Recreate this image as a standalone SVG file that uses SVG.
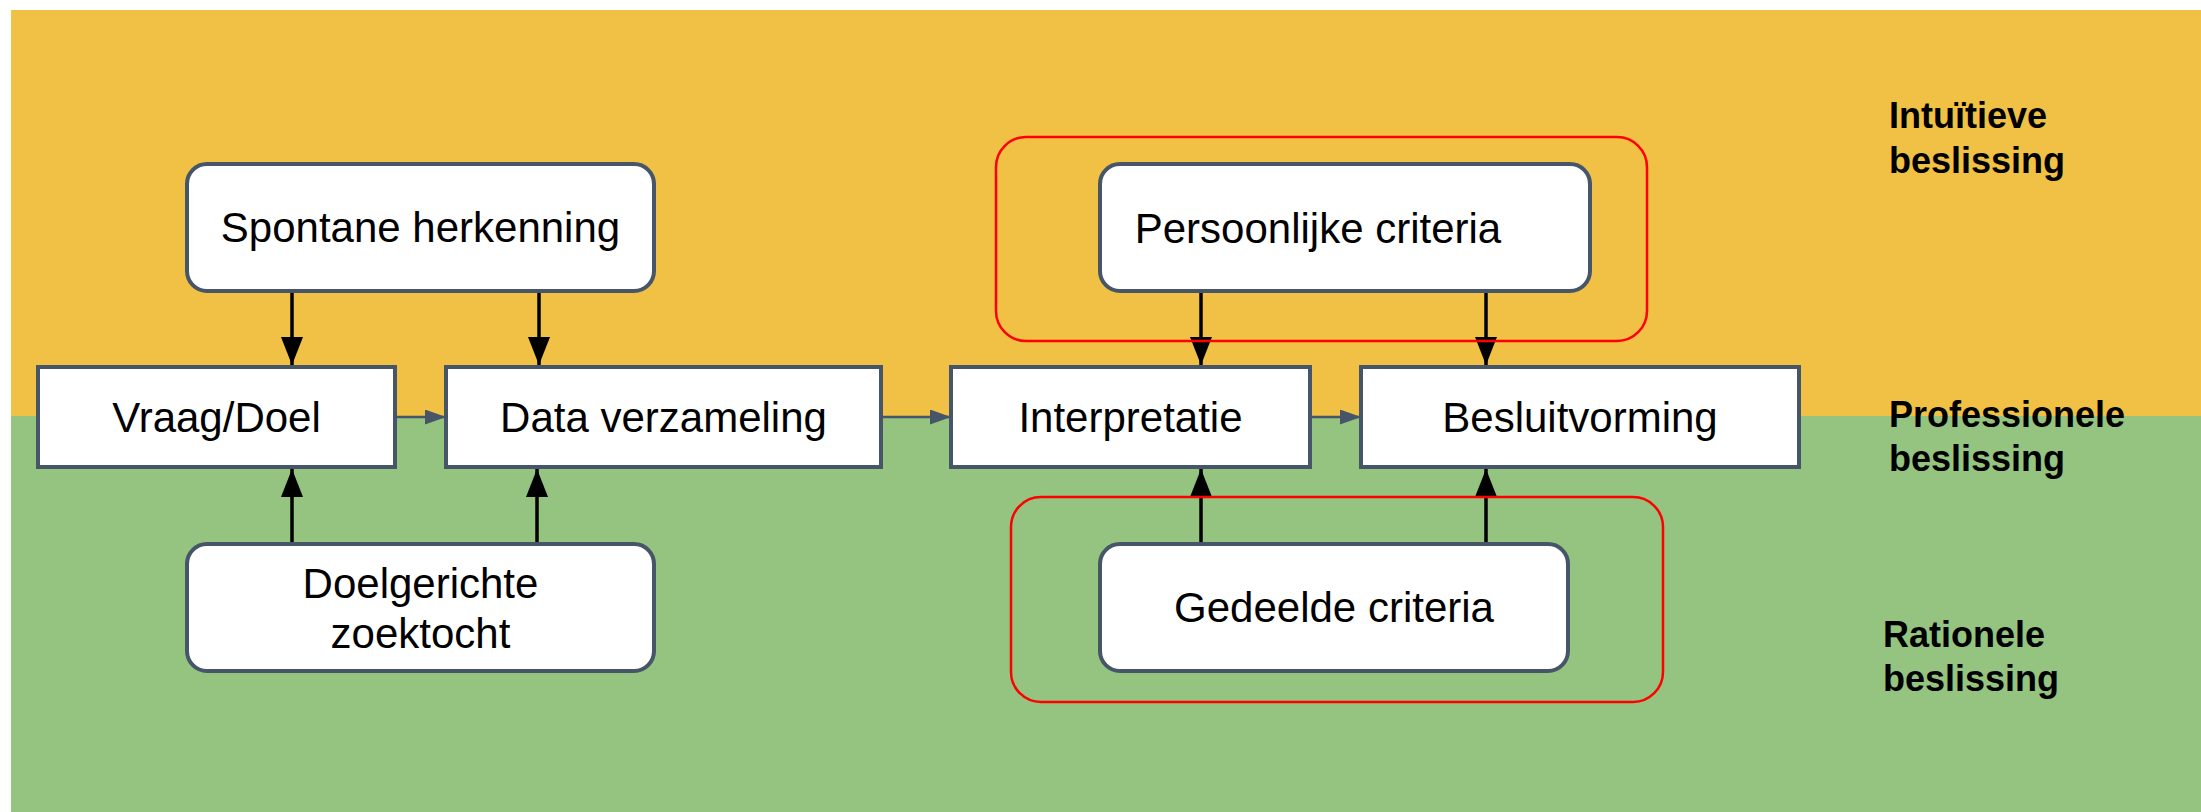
<svg xmlns="http://www.w3.org/2000/svg" width="2201" height="812" viewBox="0 0 2201 812">
<style>
.node{fill:#ffffff;stroke:#465568;stroke-width:4}
.lbl{font-family:"Liberation Sans",Arial,sans-serif;font-size:42px;fill:#000;text-anchor:middle}
.side{font-family:"Liberation Sans",Arial,sans-serif;font-size:36px;font-weight:bold;fill:#000}
.blk{stroke:#000;stroke-width:3.5;fill:none;marker-end:url(#ahB)}
.sl{stroke:#465568;stroke-width:2.5;fill:none;marker-end:url(#ahS)}
.grp{fill:none;stroke:#ff0000;stroke-width:2.5}
</style>
<defs>
<marker id="ahB" viewBox="0 0 28 22" refX="28" refY="11" markerWidth="28" markerHeight="22" markerUnits="userSpaceOnUse" orient="auto"><path d="M0,0 L28,11 L0,22 z" fill="#000"/></marker>
<marker id="ahS" viewBox="0 0 21 15" refX="21" refY="7.5" markerWidth="21" markerHeight="15" markerUnits="userSpaceOnUse" orient="auto"><path d="M0,0 L21,7.5 L0,15 z" fill="#465568"/></marker>
</defs>
<rect x="0" y="0" width="2201" height="812" fill="#ffffff"/>
<rect x="11" y="10" width="2190" height="406" fill="#F0C144"/>
<rect x="11" y="416" width="2190" height="396" fill="#94C47F"/>
<g id="connectors">
<path class="sl" d="M397,417 L446,417"/>
<path class="sl" d="M882,417 L951,417"/>
<path class="sl" d="M1312,417 L1361,417"/>
<path class="blk" d="M292,293 L292,365"/>
<path class="blk" d="M539,293 L539,365"/>
<path class="blk" d="M1201,293 L1201,365"/>
<path class="blk" d="M1486,293 L1486,365"/>
<path class="blk" d="M292,542 L292,469"/>
<path class="blk" d="M537,542 L537,469"/>
<path class="blk" d="M1201,542 L1201,469"/>
<path class="blk" d="M1486,542 L1486,469"/>
</g>
<g id="group-persoonlijk"><rect class="grp" x="996" y="137" width="651" height="204" rx="30"/></g>
<g id="group-gedeeld"><rect class="grp" x="1011" y="497" width="652" height="205" rx="30"/></g>
<g id="spontane"><rect class="node" x="187" y="164" width="467" height="127" rx="20"/><text class="lbl" x="420.5" y="242">Spontane herkenning</text></g>
<g id="vraag"><rect class="node" x="38" y="367" width="357" height="100"/><text class="lbl" x="216.5" y="432">Vraag/Doel</text></g>
<g id="data"><rect class="node" x="446" y="367" width="435" height="100"/><text class="lbl" x="663.5" y="432">Data verzameling</text></g>
<g id="interpretatie"><rect class="node" x="951" y="367" width="359" height="100"/><text class="lbl" x="1130.5" y="432">Interpretatie</text></g>
<g id="besluit"><rect class="node" x="1361" y="367" width="438" height="100"/><text class="lbl" x="1580" y="432">Besluitvorming</text></g>
<g id="persoonlijk"><rect class="node" x="1100" y="164" width="490" height="127" rx="20"/><text class="lbl" x="1318" y="243">Persoonlijke criteria</text></g>
<g id="doelgericht"><rect class="node" x="187" y="544" width="467" height="127" rx="20"/><text class="lbl" x="420.5" y="598">Doelgerichte</text><text class="lbl" x="420.5" y="648">zoektocht</text></g>
<g id="gedeeld"><rect class="node" x="1100" y="544" width="468" height="127" rx="20"/><text class="lbl" x="1334" y="622">Gedeelde criteria</text></g>
<g id="labels">
<text class="side" x="1889" y="128">Intuïtieve</text><text class="side" x="1889" y="173">beslissing</text>
<text class="side" x="1889" y="427">Professionele</text><text class="side" x="1889" y="471">beslissing</text>
<text class="side" x="1883" y="647">Rationele</text><text class="side" x="1883" y="691">beslissing</text>
</g>
</svg>
